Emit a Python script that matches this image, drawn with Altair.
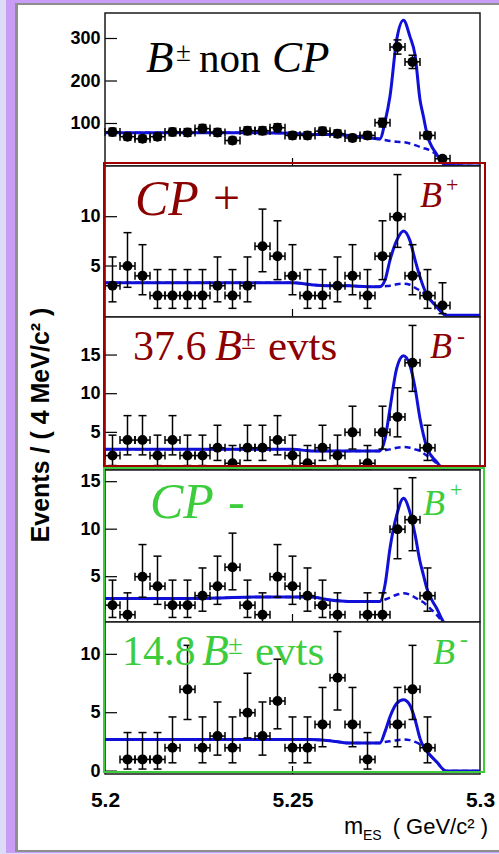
import altair as alt
import pandas as pd

# ---------------- data ----------------
BIN_X = [5.202, 5.206, 5.210, 5.214, 5.218, 5.222, 5.226, 5.230, 5.234, 5.238,
         5.242, 5.246, 5.250, 5.254, 5.258, 5.262, 5.266, 5.270, 5.274, 5.278,
         5.282, 5.286, 5.290]
HALF_BIN = 0.002

N_NONCP = [80, 69, 64, 69, 80, 79, 88, 79, 60, 83, 83, 90, 72, 72, 82, 76, 66, 72,
           102, 280, 245, 72, 17]
N_CPP_BP = [3, 5, 4, 2, 2, 2, 2, 3, 2, 3, 7, 6, 4, 2, 2, 3, 4, 2, 6, 10, 4, 2, 1]
N_CPP_BM = [2, 4, 4, 2, 4, 2, 2, 3, 1, 3, 3, 4, 2, 1, 3, 2, 5, 1, 5, 7, 14, 3, None]
N_CPM_BP = [2, 1, 5, 4, 2, 2, 3, 4, 6, 2, 1, 5, 4, 3, 2, 1, None, 1, 1, 10, 11, 3, None]
N_CPM_BM = [None, 1, 1, 1, 2, 7, 2, 3, 2, 5, 3, 6, 2, 2, 4, 8, 4, 1, None, 4, 7, 2, None]

# 68% central Poisson intervals (lower, upper limits) for small counts
POISSON_LO = {1: 0.173, 2: 0.708, 3: 1.367, 4: 2.086, 5: 2.840, 6: 3.620, 7: 4.419,
              8: 5.232, 9: 6.057, 10: 6.891, 11: 7.734, 12: 8.585, 13: 9.441, 14: 10.30}
POISSON_HI = {1: 3.300, 2: 4.638, 3: 5.918, 4: 7.163, 5: 8.382, 6: 9.584, 7: 10.77,
              8: 11.95, 9: 13.11, 10: 14.27, 11: 15.42, 12: 16.56, 13: 17.70, 14: 18.83}

CURVE_X = [5.200, 5.210, 5.220, 5.230, 5.240, 5.250, 5.255, 5.260, 5.265, 5.270,
           5.2733, 5.2747, 5.2760, 5.2778, 5.2796, 5.2813, 5.2827, 5.2840, 5.2849,
           5.2858, 5.2884, 5.2910, 5.3000]

TOT_NONCP = [78, 78, 78, 78, 78, 77, 74, 74, 72, 66, 64, 105, 164, 298, 343, 305, 260,
             156, 117, 78, 28, 2, 0]
BKG_NONCP = [78, 78, 78, 78, 78, 77, 74, 74, 72, 66, 63, 61, 59, 57, 56, 53, 49,
             45, 42, 40, 27, 2, 0]
TOT_CPP_BP = [3.3, 3.3, 3.3, 3.3, 3.3, 3.3, 3.1, 3.0, 3.0, 2.9, 2.9, 3.6, 5.6, 7.6,
              8.55, 7.6, 5.6, 3.9, 2.9, 2.1, 0.9, 0, 0]
BKG_CPP_BP = [3.3, 3.3, 3.3, 3.3, 3.3, 3.3, 3.1, 3.0, 3.0, 2.9, 2.9, 2.95, 3.0, 3.15,
              3.2, 3.1, 2.8, 2.5, 2.3, 2.0, 0.9, 0, 0]
TOT_CPP_BM = [2.8, 2.8, 2.8, 2.8, 2.8, 2.8, 2.6, 2.6, 2.6, 2.6, 2.6, 4.2, 8.1, 13.3,
              14.9, 13.7, 10.7, 6.8, 4.7, 3.1, 1.2, 0, 0]
BKG_CPP_BM = [2.8, 2.8, 2.8, 2.8, 2.8, 2.8, 2.6, 2.6, 2.6, 2.6, 2.6, 2.7, 2.8, 3.0,
              3.1, 3.0, 2.8, 2.6, 2.3, 2.0, 1.0, 0, 0]
TOT_CPM_BP = [2.7, 2.7, 2.7, 2.75, 2.86, 2.86, 2.86, 2.55, 2.4, 2.4, 2.4, 4.2, 8.0,
              11.5, 13.25, 11.8, 9.4, 6.6, 5.2, 3.8, 1.7, 0, 0]
BKG_CPM_BP = [2.7, 2.7, 2.7, 2.75, 2.86, 2.86, 2.86, 2.55, 2.4, 2.4, 2.4, 2.6, 2.8,
              3.1, 3.25, 3.1, 2.8, 2.5, 2.3, 2.0, 1.0, 0, 0]
TOT_CPM_BM = [2.7, 2.7, 2.7, 2.7, 2.7, 2.7, 2.7, 2.6, 2.4, 2.4, 2.4, 3.4, 4.65, 5.8,
              6.1, 5.65, 4.4, 2.8, 2.1, 1.7, 0.8, 0, 0]
BKG_CPM_BM = [2.7, 2.7, 2.7, 2.7, 2.7, 2.7, 2.7, 2.6, 2.4, 2.4, 2.4, 2.5, 2.55, 2.65,
              2.7, 2.65, 2.5, 2.3, 2.1, 1.7, 0.8, 0, 0]

Y_TICKS = [[100, 200, 300], [5, 10], [5, 10, 15], [5, 10, 15], [0, 5, 10]]
X_TICKS = [5.2, 5.25, 5.3]

# ---------------- layout / style ----------------
W = 375
PANEL_H = [153, 151, 153, 152, 152]
PANEL_DOMAIN = [[0, 360], [-0.17, 15.14], [0.13, 19.92], [0.23, 16.23], [-0.25, 12.77]]

BLUE = "#1010d8"
RED = "#8c0000"
RED_BOX = "#a00000"
GREEN = "#3ccc3c"
SERIF = "Liberation Serif"
SANS = "Liberation Sans"
ONE = pd.DataFrame({"k": [0]})


def txt(s, x, y, size, color="black", style="normal", font=SERIF, align="left",
        angle=0, weight="normal", baseline="alphabetic"):
    return alt.Chart(ONE).mark_text(
        text=s, font=font, fontSize=size, fontStyle=style, fontWeight=weight,
        color=color, align=align, baseline=baseline, angle=angle
    ).encode(x=alt.value(x), y=alt.value(y))


def box(x1, x2, y1, y2, fill=None, stroke=None, sw=2):
    kw = {}
    if fill is not None:
        kw["fill"] = fill
    else:
        kw["fillOpacity"] = 0
    if stroke is not None:
        kw["stroke"] = stroke
        kw["strokeWidth"] = sw
    return alt.Chart(ONE).mark_rect(**kw).encode(
        x=alt.value(x1), x2=alt.value(x2), y=alt.value(y1), y2=alt.value(y2))


def errs(n):
    if n in POISSON_LO:
        return POISSON_LO[n], POISSON_HI[n]
    s = n ** 0.5
    return n - s, n + s


def panel(i, counts, total, bkg, before=(), after=()):
    h = PANEL_H[i]
    last = i == 4
    xs = alt.Scale(domain=[5.2, 5.3], nice=False, zero=False)
    ys = alt.Scale(domain=PANEL_DOMAIN[i], nice=False, zero=False)
    if last:
        xax = alt.Axis(values=X_TICKS, format="~g", labelFlush=False, labelFontSize=21,
                       labelFont=SANS, labelFontWeight="bold", labelPadding=15,
                       labelColor="black", ticks=False, domain=False, grid=False,
                       title=None, labelOverlap=False, zindex=5)
    else:
        xax = None
    yax = alt.Axis(values=Y_TICKS[i], labelFontSize=18, labelFont=SANS,
                   labelFontWeight="bold", labelColor="black", labelPadding=5,
                   ticks=False, domain=False, grid=False, title=None,
                   labelFlush=False, labelOverlap=False, zindex=5)

    def X(f):
        return alt.X(f, type="quantitative", scale=xs, axis=xax)

    def Y(f):
        return alt.Y(f, type="quantitative", scale=ys, axis=yax)

    rows = []
    for x, n in zip(BIN_X, counts):
        if n is None:
            continue
        lo, hi = errs(n)
        rows.append(dict(x=x, n=n, lo=lo, hi=hi, xl=x - HALF_BIN, xh=x + HALF_BIN))
    pts = pd.DataFrame(rows)
    cur = pd.DataFrame({"x": CURVE_X, "total": total, "bkg": bkg})
    yt = pd.DataFrame({"v": Y_TICKS[i]})
    xt = pd.DataFrame({"x": [5.25]})

    layers = list(before)
    layers += [
        alt.Chart(cur).mark_line(color=BLUE, strokeWidth=2.5, strokeDash=[6, 4],
                                 interpolate="monotone").encode(x=X("x"), y=Y("bkg")),
        alt.Chart(cur).mark_line(color=BLUE, strokeWidth=3,
                                 interpolate="monotone").encode(x=X("x"), y=Y("total")),
        alt.Chart(pts).mark_rule(color="black", strokeWidth=1.5).encode(
            x=X("x"), y=Y("lo"), y2="hi"),
        alt.Chart(pts).mark_tick(orient="horizontal", size=8, thickness=1.5,
                                 color="black", opacity=1).encode(x=X("x"), y=Y("lo")),
        alt.Chart(pts).mark_tick(orient="horizontal", size=8, thickness=1.5,
                                 color="black", opacity=1).encode(x=X("x"), y=Y("hi")),
        alt.Chart(pts).mark_rule(color="black", strokeWidth=1.5).encode(
            x=X("xl"), x2="xh", y=Y("n")),
        alt.Chart(pts).mark_tick(orient="vertical", size=8, thickness=1.5,
                                 color="black", opacity=1).encode(x=X("xl"), y=Y("n")),
        alt.Chart(pts).mark_tick(orient="vertical", size=8, thickness=1.5,
                                 color="black", opacity=1).encode(x=X("xh"), y=Y("n")),
        alt.Chart(pts).mark_circle(size=100, color="black", opacity=1).encode(
            x=X("x"), y=Y("n")),
        alt.Chart(yt).mark_rule(color="black", strokeWidth=1.2).encode(
            y=Y("v"), x=alt.value(0), x2=alt.value(12)),
        alt.Chart(xt).mark_rule(color="black", strokeWidth=1.2).encode(
            x=X("x"), y=alt.value(h), y2=alt.value(h - 8)),
        box(0, W, 0, h, stroke="#1a1a1a", sw=1.5),
    ]
    layers += list(after)
    return alt.layer(*layers).properties(width=W, height=h)


# page background, drawn in panel 1 coordinates (panel 1 plot origin is at 105,13)
bg = [
    box(-105, 394, -13, 841, fill="#dcdcf8"),
    box(-99, 394, -13, 840, fill="#c99cf5"),
    box(-90, 394, -10, 839, fill="#8e8e8e"),
    box(-87, 394, -8, 837, fill="white"),
]

ann1 = [
    txt("B", 41, 59, 45, style="italic"),
    txt("±", 71, 48, 27),
    txt("non", 94, 59, 41),
    txt("CP", 167, 59, 45, style="italic"),
]
ann2 = [
    txt("CP", 30, 49, 50, color=RED, style="italic"),
    txt("+", 108, 48, 48, color=RED),
    txt("B", 315, 41, 36, color=RED, style="italic"),
    txt("+", 341, 26, 22, color=RED),
]
ann3 = [
    txt("37.6", 28, 43, 42, color=RED),
    txt("B", 110, 43, 44, color=RED, style="italic"),
    txt("±", 136, 32, 27, color=RED),
    txt("evts", 163, 43, 43, color=RED),
    txt("B", 325, 41, 36, color=RED, style="italic"),
    txt("-", 352, 27, 24, color=RED),
    box(-1, 380, -154, 149, stroke=RED_BOX, sw=2),
    txt("Events / ( 4 MeV/c² )", -64, 108, 25, font=SANS, weight="bold",
        angle=270, align="center", baseline="middle"),
]
ann4 = [
    txt("CP", 45, 48, 50, color=GREEN, style="italic"),
    txt("-", 123, 48, 50, color=GREEN),
    txt("B", 318, 45, 36, color=GREEN, style="italic"),
    txt("+", 345, 27, 22, color=GREEN),
]
ann5 = [
    txt("14.8", 17, 43, 42, color=GREEN),
    txt("B", 97, 43, 44, color=GREEN, style="italic"),
    txt("±", 123, 32, 27, color=GREEN),
    txt("evts", 150, 43, 43, color=GREEN),
    txt("B", 328, 42, 36, color=GREEN, style="italic"),
    txt("-", 355, 25, 24, color=GREEN),
    box(-1, 379, -154, 150, stroke=GREEN, sw=2),
    txt("m", 239, 212, 23, font=SANS),
    txt("ES", 258, 218, 14, font=SANS),
    txt("( GeV/c² )", 383, 212, 22, font=SANS, align="right"),
]

p1 = panel(0, N_NONCP, TOT_NONCP, BKG_NONCP, before=bg, after=ann1)
p2 = panel(1, N_CPP_BP, TOT_CPP_BP, BKG_CPP_BP, after=ann2)
p3 = panel(2, N_CPP_BM, TOT_CPP_BM, BKG_CPP_BM, after=ann3)
p4 = panel(3, N_CPM_BP, TOT_CPM_BP, BKG_CPM_BP, after=ann4)
p5 = panel(4, N_CPM_BM, TOT_CPM_BM, BKG_CPM_BM, after=ann5)

chart = alt.vconcat(p1, p2, p3, p4, p5, spacing=0, bounds="flush").properties(
    padding={"left": 0, "right": 0, "top": 0, "bottom": 0},
    background="#dcdcf8",
).configure_view(fill="white", strokeWidth=0).configure_axis(zindex=5)

chart.save("out.html", embed_options={"renderer": "svg", "actions": False})
